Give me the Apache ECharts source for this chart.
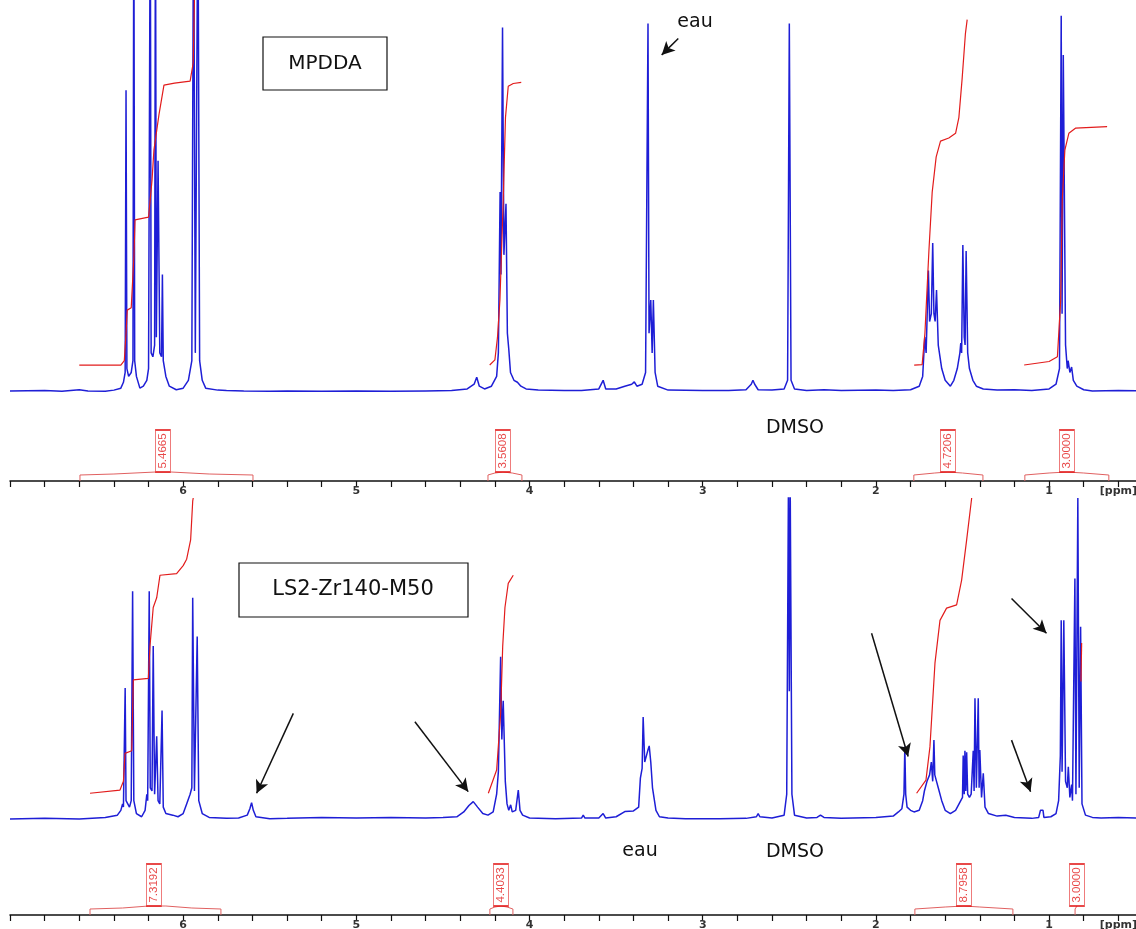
<!DOCTYPE html>
<html>
<head>
<meta charset="utf-8">
<script src="https://cdn.jsdelivr.net/npm/echarts/dist/echarts.min.js"></script>
<style>html,body{margin:0;padding:0;background:#fff;}#c{width:1136px;height:929px;}</style>
</head>
<body>
<div id="c"></div>
<script>
// ---------- DATA (ppm, intensity) ----------
const tickLabelsPpm = [1, 2, 3, 4, 5, 6];
const unitLabel = '[ppm]';

const topSpectrum = [
[7.00,0.3],[6.80,0.4],[6.70,0.2],[6.60,0.6],[6.55,0.3],[6.45,0.2],[6.40,0.5],[6.36,1.0],
[6.345,2.5],[6.335,5],[6.33,77],[6.325,6],[6.315,4],[6.30,5],[6.29,8],[6.285,130],[6.28,8],[6.27,4],[6.25,1],[6.23,1.5],[6.21,3],[6.20,6],
[6.19,130],[6.185,10],[6.175,9],[6.165,12],[6.16,130],[6.155,14],[6.145,59],[6.135,10],[6.125,9],[6.12,30],[6.115,8],[6.10,4],[6.08,1.5],[6.04,0.6],
[6.00,1],[5.97,3],[5.95,8],[5.94,130],[5.93,10],[5.915,130],[5.905,8],[5.89,3],[5.87,1],[5.80,0.5],[5.75,0.4],[5.65,0.3],[5.50,0.2],
[5.40,0.3],[5.20,0.2],[5.00,0.3],[4.80,0.2],[4.60,0.3],[4.45,0.4],[4.36,0.8],[4.32,2],[4.305,3.8],[4.29,1.5],[4.26,0.8],[4.22,1.5],[4.19,4],[4.18,10],
[4.17,51],[4.165,30],[4.156,93],[4.148,35],[4.136,48],[4.128,15],[4.12,11],[4.11,5],[4.09,3],[4.07,2.5],[4.05,1.5],[4.02,0.8],[3.95,0.5],[3.80,0.4],
[3.70,0.4],[3.60,0.8],[3.575,3],[3.56,0.8],[3.50,0.8],[3.45,1.5],[3.41,2],[3.395,2.6],[3.38,1.5],[3.35,2],[3.33,5],[3.316,94],[3.31,15],[3.30,23.5],
[3.292,10],[3.285,23.5],[3.275,5],[3.26,1.5],[3.20,0.5],[3.00,0.4],[2.85,0.4],[2.75,0.6],[2.72,2],[2.71,3],[2.70,2],[2.68,0.6],[2.60,0.5],
[2.53,0.8],[2.51,3],[2.50,94],[2.49,3],[2.47,0.8],[2.40,0.4],[2.30,0.6],[2.20,0.4],[2.00,0.5],[1.90,0.4],[1.80,0.6],[1.75,1.5],[1.73,4],
[1.718,14],[1.71,10],[1.697,31],[1.69,18],[1.68,20],[1.672,38],[1.665,20],[1.658,18],[1.65,26],[1.64,12],[1.62,6],[1.60,3],[1.57,1.5],
[1.55,3],[1.53,6],[1.515,10],[1.51,12.5],[1.505,10],[1.498,37.5],[1.49,14],[1.485,12],[1.479,36],[1.47,10],[1.46,6],[1.44,3],[1.42,1.5],
[1.38,0.8],[1.30,0.5],[1.20,0.6],[1.10,0.4],[1.00,0.8],[0.96,2],[0.94,6],[0.93,96],[0.925,20],[0.918,86],[0.905,12],[0.895,6],[0.89,8],
[0.88,5],[0.87,6.4],[0.86,3],[0.84,1.5],[0.80,0.6],[0.75,0.3],[0.60,0.4],[0.40,0.3]
];

const topIntegral1 = [[6.60,6.9],[6.36,6.9],[6.34,8],[6.33,15],[6.323,20.9],[6.30,21.5],[6.29,22],[6.284,35],[6.278,43.9],[6.20,44.6],[6.18,54],[6.169,61.7],[6.14,70.7],[6.111,78.3],[6.05,78.8],[5.96,79.3],[5.942,84],[5.935,100],[5.932,130]];
const topIntegral2 = [[4.23,6.9],[4.20,8.2],[4.185,14],[4.171,23.5],[4.152,49],[4.139,70],[4.123,78],[4.094,78.7],[4.048,79]];
const topIntegral3 = [[1.779,6.9],[1.733,7],[1.717,15],[1.694,36],[1.675,51],[1.652,60],[1.627,64],[1.579,64.8],[1.540,66],[1.521,70],[1.502,80],[1.483,91.5],[1.473,95]];
const topIntegral4 = [[1.144,6.9],[1.00,7.8],[0.952,9],[0.933,23.5],[0.924,49],[0.909,61.7],[0.886,66],[0.848,67.3],[0.665,67.7]];

const bottomSpectrum = [
[7.00,0.3],[6.80,0.5],[6.60,0.3],[6.45,0.8],[6.38,1.5],[6.36,3],[6.35,5],[6.345,4],[6.335,41],[6.33,6],[6.31,4],[6.30,6],[6.292,71],[6.285,6],
[6.27,2],[6.24,1],[6.22,3],[6.21,8],[6.205,6],[6.196,71],[6.19,10],[6.18,9],[6.173,54],[6.165,8],[6.153,26],[6.145,6],[6.135,5],[6.122,34],
[6.115,4],[6.10,2],[6.06,1.5],[6.03,1],[6.00,2],[5.98,5],[5.96,8],[5.95,10],[5.945,69],[5.935,9],[5.919,57],[5.91,6],[5.89,2],[5.85,0.8],
[5.75,0.5],[5.68,0.6],[5.63,1.5],[5.615,3.5],[5.605,5.4],[5.595,3],[5.58,1],[5.50,0.4],[5.40,0.5],[5.20,0.8],[5.00,0.6],[4.80,0.8],[4.60,0.6],
[4.50,0.8],[4.42,1],[4.38,2.5],[4.35,4.5],[4.325,5.7],[4.30,4],[4.27,2],[4.24,1.5],[4.21,2.5],[4.19,8],[4.18,15],[4.167,50.7],[4.16,25],
[4.152,37],[4.14,12],[4.13,5],[4.12,3],[4.109,4.7],[4.10,2.5],[4.08,3],[4.065,9.3],[4.055,3],[4.04,1.5],[4.00,0.6],[3.85,0.4],[3.70,0.6],
[3.69,1.5],[3.68,0.6],[3.60,0.6],[3.575,2],[3.56,0.6],[3.50,1],[3.45,2.6],[3.40,2.8],[3.37,4],[3.36,13],[3.35,16],[3.344,32],[3.335,18],
[3.325,20],[3.315,22],[3.309,23],[3.30,18],[3.29,10],[3.27,3],[3.25,1],[3.20,0.6],[3.10,0.4],[2.90,0.4],[2.75,0.5],[2.69,1],[2.68,2],[2.67,1],
[2.60,0.6],[2.53,1.5],[2.515,8],[2.505,105],[2.50,40],[2.495,105],[2.485,8],[2.47,1.5],[2.40,0.6],[2.34,0.8],[2.32,1.5],[2.30,0.8],[2.20,0.5],
[2.00,0.8],[1.90,1.2],[1.87,2.5],[1.85,3.5],[1.838,8],[1.833,22.8],[1.828,8],[1.82,4],[1.80,3],[1.78,2.5],[1.75,3],[1.73,6],[1.72,9],[1.705,12],
[1.69,14],[1.68,18],[1.672,12],[1.665,24.8],[1.66,14],[1.65,12],[1.64,10],[1.62,6],[1.60,3],[1.57,2],[1.54,3],[1.52,5],[1.50,7],[1.496,20],
[1.49,8],[1.486,21.5],[1.481,9],[1.476,21],[1.47,8],[1.46,7],[1.45,8],[1.438,21.5],[1.433,9],[1.428,37.8],[1.42,10],[1.409,37.8],[1.404,10],
[1.40,21.7],[1.39,7],[1.38,14.5],[1.37,4],[1.35,2],[1.30,1.2],[1.25,1.5],[1.20,0.8],[1.10,0.5],[1.06,0.8],[1.05,3],[1.044,3.5],[1.035,3],
[1.03,0.8],[0.99,1],[0.96,2],[0.945,6],[0.935,20],[0.93,62],[0.925,15],[0.915,62],[0.905,12],[0.895,10],[0.889,16.5],[0.88,7],[0.87,11],
[0.865,6],[0.851,75],[0.845,8],[0.834,100],[0.826,10],[0.818,60],[0.81,5],[0.79,1.5],[0.75,0.8],[0.70,0.6],[0.60,0.8],[0.40,0.5]
];

const bottomIntegral1 = [[6.538,8.3],[6.365,9.3],[6.345,12],[6.336,20.7],[6.297,21.5],[6.288,43.5],[6.201,44],[6.192,53.8],[6.173,66],[6.153,69],[6.134,76],[6.038,76.5],[6.00,79],[5.98,81],[5.957,87],[5.945,99],[5.942,100]];
const bottomIntegral2 = [[4.238,8.3],[4.19,15.5],[4.167,33],[4.155,54],[4.142,66],[4.123,73.5],[4.094,76]];
const bottomIntegral3 = [[1.765,8.3],[1.711,12.4],[1.688,22.7],[1.659,48.7],[1.630,62],[1.592,65.8],[1.534,66.8],[1.505,74.5],[1.476,87],[1.447,100]];
const bottomIntegral4 = [[0.816,43],[0.812,55]];

// integral brackets (ppm, height above axis in px units) and their values
const topBrackets = [
  [[6.596,0],[6.596,6],[6.40,7],[6.16,9],[6.117,9],[6.07,9],[5.85,7],[5.597,6],[5.597,0]],
  [[4.24,0],[4.24,6],[4.20,8],[4.154,9],[4.10,8],[4.044,6],[4.044,0]],
  [[1.781,0],[1.781,6],[1.66,8],[1.584,9],[1.50,8],[1.382,6],[1.382,0]],
  [[1.14,0],[1.14,6],[1.00,8],[0.897,9],[0.80,8],[0.655,6],[0.655,0]]
];
const topIntegralValues = [[6.117,'5.4665'],[4.154,'3.5608'],[1.584,'4.7206'],[0.897,'3.0000']];
const bottomBrackets = [
  [[6.538,0],[6.538,6],[6.35,7],[6.20,9],[6.169,9],[6.10,9],[5.95,7],[5.782,6],[5.782,0]],
  [[4.229,0],[4.229,6],[4.20,8],[4.165,9],[4.13,8],[4.096,6],[4.096,0]],
  [[1.775,0],[1.775,6],[1.60,8],[1.492,9],[1.40,8],[1.209,6],[1.209,0]],
  [[0.85,0],[0.85,6],[0.845,8],[0.839,9]]
];
const bottomIntegralValues = [[6.169,'7.3192'],[4.165,'4.4033'],[1.492,'8.7958'],[0.839,'3.0000']];

// arrows: [from, to] in (ppm, intensity)
const topArrows = [[[3.141,90.2],[3.237,86]]];
const bottomArrows = [
  [[5.364,33.1],[5.576,8.3]],
  [[4.662,30.5],[4.354,8.8]],
  [[2.025,58],[1.814,19.7]],
  [[1.217,68.8],[1.015,58]],
  [[1.217,24.8],[1.107,8.8]]
];

// ---------- CHART ----------
const BLUE = '#1e1ed6';
const RED = '#e21c1c';
const chart = echarts.init(document.getElementById('c'), null, {renderer:'canvas'});

function labelFmt(v){
  if (Math.abs(v - 0.6) < 1e-6) return unitLabel;
  const r = Math.round(v);
  if (Math.abs(v - r) < 1e-6 && tickLabelsPpm.indexOf(r) >= 0) return String(r);
  return '';
}
function hiddenX(g){ return {gridIndex:g, type:'value', min:0.4, max:7, inverse:true, show:false}; }
function shownX(g){
  return {gridIndex:g, type:'value', min:0.4, max:7, inverse:true, interval:0.2,
    axisLine:{onZero:false, lineStyle:{color:'#111', width:1.5}},
    axisTick:{length:6, lineStyle:{color:'#111', width:1.2}},
    splitLine:{show:false},
    axisLabel:{formatter:labelFmt, fontSize:11, fontWeight:'bold', color:'#333', margin:5, fontFamily:'DejaVu Sans'}};
}
function lineSeries(x, y, data, color, width, extra){
  return Object.assign({type:'line', xAxisIndex:x, yAxisIndex:y, data:data, showSymbol:false, symbol:'none',
    lineStyle:{color:color, width:width}, itemStyle:{color:color}, animation:false, silent:true, z:2}, extra || {});
}
function arrowMark(arrows){
  return {silent:true, symbol:['none','arrow'], symbolSize:[10,13], animation:false,
    lineStyle:{color:'#111', width:1.5, type:'solid'}, label:{show:false},
    data: arrows.map(a => [{coord:a[0]}, {coord:a[1]}])};
}
function labelSeries(x, y, vals){
  return {type:'scatter', xAxisIndex:x, yAxisIndex:y, symbol:'rect', symbolSize:[15,42], animation:false, silent:true, z:5,
    itemStyle:{color:'rgba(255,255,255,0.9)', borderColor:RED, borderWidth:1.2},
    label:{show:true, position:'inside', rotate:90, color:RED, fontSize:11.5, fontFamily:'Liberation Sans Narrow, Liberation Sans, sans-serif',
      formatter:p => p.data[2]},
    data: vals.map(v => [v[0], 30, v[1]])};
}

const series = [];
series.push(lineSeries(0,0,topSpectrum,BLUE,1.5,{markLine:arrowMark(topArrows)}));
[topIntegral1, topIntegral2, topIntegral3, topIntegral4].forEach(d => series.push(lineSeries(0,0,d,RED,1.2,{z:3})));
topBrackets.forEach(d => series.push(lineSeries(1,1,d,'#e06060',1)));
series.push(labelSeries(1,1,topIntegralValues));
series.push(lineSeries(2,2,bottomSpectrum,BLUE,1.5,{markLine:arrowMark(bottomArrows)}));
[bottomIntegral1, bottomIntegral2, bottomIntegral3, bottomIntegral4].forEach(d => series.push(lineSeries(2,2,d,RED,1.2,{z:3})));
bottomBrackets.forEach(d => series.push(lineSeries(3,3,d,'#e06060',1)));
series.push(labelSeries(3,3,bottomIntegralValues));

const txt = (x, y, t, size) => ({type:'text', x:x, y:y, z:10, silent:true,
  style:{text:t, fill:'#111', fontSize:size, fontFamily:'DejaVu Sans', align:'center', verticalAlign:'middle'}});

const G = {outerBoundsMode:'none', containLabel:false, left:10, width:1143};
chart.setOption({
  animation:false,
  backgroundColor:'#fff',
  grid:[
    Object.assign({top:0, height:396}, G),
    Object.assign({top:421, height:60}, G),
    Object.assign({top:498, height:325.2}, G),
    Object.assign({top:855, height:60}, G)
  ],
  xAxis:[hiddenX(0), shownX(1), hiddenX(2), shownX(3)],
  yAxis:[
    {gridIndex:0, type:'value', min:-1, max:100, show:false},
    {gridIndex:1, type:'value', min:0, max:60, show:false},
    {gridIndex:2, type:'value', min:-1, max:100, show:false},
    {gridIndex:3, type:'value', min:0, max:60, show:false}
  ],
  series:series,
  graphic:[
    {type:'rect', z:9, silent:true, shape:{x:263, y:37, width:124, height:53}, style:{fill:'#fff', stroke:'#111', lineWidth:1.2}},
    txt(325, 64, 'MPDDA', 20),
    {type:'rect', z:9, silent:true, shape:{x:239, y:563, width:229, height:54}, style:{fill:'#fff', stroke:'#111', lineWidth:1.2}},
    txt(353, 590, 'LS2-Zr140-M50', 21),
    txt(695, 22, 'eau', 19),
    txt(795, 428, 'DMSO', 19),
    txt(640, 851, 'eau', 19),
    txt(795, 852, 'DMSO', 19)
  ]
});
</script>
</body>
</html>
